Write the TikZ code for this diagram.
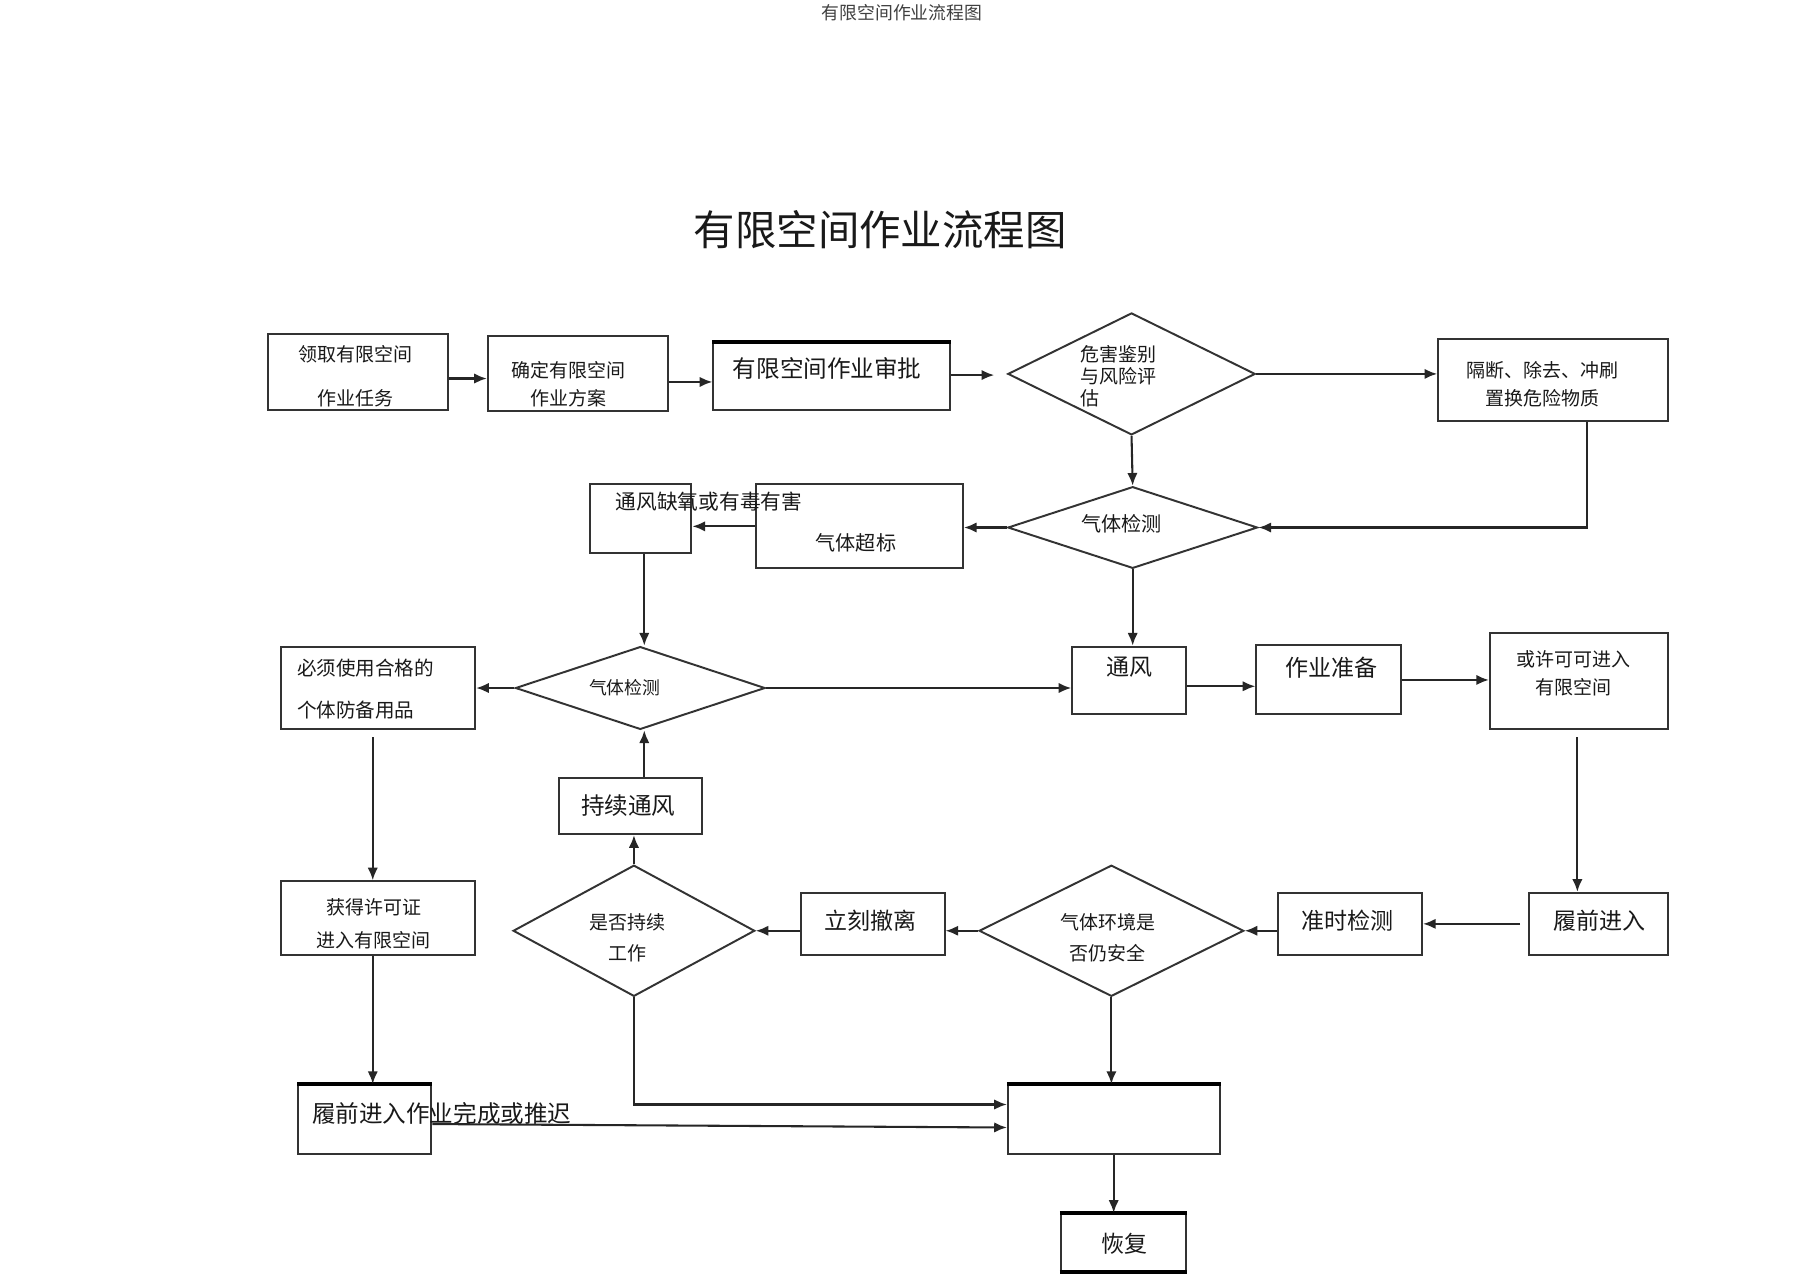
\documentclass[tikz,border=0pt]{standalone}
\usepackage{fontspec}
\setmainfont{Noto Sans CJK SC}
\usetikzlibrary{arrows.meta,shapes.geometric}
\newcommand{\myfs}[2]{\fontsize{#1}{#2}\selectfont}
\begin{document}
\begin{tikzpicture}[x=1pt,y=-1pt,
  box/.style={draw=black!80,line width=1.7pt,inner sep=0pt},
  dia/.style={diamond,draw=black!80,line width=1.7pt,inner sep=0pt},
  txt/.style={inner sep=0pt,text=black!90},
  conn/.style={draw=black!85,line width=1.8pt,-{Latex[length=11pt,width=9pt]}},
  topbar/.style={draw=black,line width=3.5pt}
]
\useasboundingbox[fill=white] (0,0) rectangle (1568,1107);

% headings
\node[txt,text=black!75,font=\myfs{15.5}{18}] (hdr) at (784,11) {有限空间作业流程图};
\node[txt,font=\myfs{36}{40}] (title) at (765,200) {有限空间作业流程图};

% boxes
\node[box,minimum width=156pt,minimum height=66pt] (A) at (311,323) {};
\node[box,minimum width=157pt,minimum height=65pt] (B) at (502.5,324.5) {};
\node[box,minimum width=206pt,minimum height=58pt] (C) at (723,327) {};
\node[box,minimum width=200pt,minimum height=71pt] (E) at (1350,330.5) {};
\node[box,minimum width=180pt,minimum height=73pt] (F) at (747,457.5) {};
\node[box,minimum width=88pt,minimum height=60pt] (G) at (557,451) {};
\node[box,minimum width=169pt,minimum height=72pt] (I) at (328.5,598) {};
\node[box,minimum width=99pt,minimum height=59pt] (H) at (981.5,591.5) {};
\node[box,minimum width=126pt,minimum height=60pt] (J) at (1155,591) {};
\node[box,minimum width=155pt,minimum height=84pt] (K) at (1372.5,592) {};
\node[box,minimum width=124pt,minimum height=49pt] (M) at (548,700.5) {};
\node[box,minimum width=125pt,minimum height=54pt] (N) at (758.5,803) {};
\node[box,minimum width=125pt,minimum height=54pt] (O) at (1173.5,803) {};
\node[box,minimum width=121pt,minimum height=54pt] (L) at (1389.5,803) {};
\node[box,minimum width=169pt,minimum height=64pt] (P) at (328.5,798) {};
\node[box,minimum width=116pt,minimum height=60pt] (Q) at (317,973) {};
\node[box,minimum width=184pt,minimum height=60pt] (R) at (968,973) {};
\node[box,minimum width=109pt,minimum height=50pt] (S) at (976.5,1080) {};

% thick top/bottom borders
\draw[topbar] (C.north west) -- (C.north east);
\draw[topbar] (Q.north west) -- (Q.north east);
\draw[topbar] (R.north west) -- (R.north east);
\draw[topbar] (S.north west) -- (S.north east);
\draw[topbar] (S.south west) -- (S.south east);

% diamonds
\node[dia,minimum width=215pt,minimum height=106pt] (D1) at (983.5,325) {};
\node[dia,minimum width=217pt,minimum height=71pt] (D2) at (984.5,458.5) {};
\node[dia,minimum width=217pt,minimum height=72pt] (D3) at (556.5,598) {};
\node[dia,minimum width=210pt,minimum height=114pt] (D4) at (551,809) {};
\node[dia,minimum width=230pt,minimum height=114pt] (D5) at (966,809) {};

% texts
\node[txt,align=center,font=\myfs{16.5}{38}] (tA) at (309,327) {领取有限空间\\作业任务};
\node[txt,align=center,font=\myfs{16.5}{24}] (tB) at (494,334) {确定有限空间\\作业方案};
\node[txt,font=\myfs{20.5}{24}] (tC) at (719,320) {有限空间作业审批};
\node[txt,align=left,anchor=west,font=\myfs{16.5}{19}] (tD1) at (939,327) {危害鉴别\\与风险评\\估};
\node[txt,align=center,font=\myfs{16.5}{24}] (tE) at (1341,334) {隔断、除去、冲刷\\置换危险物质};
\node[txt,font=\myfs{17.5}{20}] (tD2) at (975,455) {气体检测};
\node[txt,font=\myfs{17.5}{20}] (tF) at (744,472) {气体超标};
\node[txt,anchor=west,font=\myfs{18}{20}] (tG) at (535,436) {通风缺氧或有毒有害};
\node[txt,font=\myfs{15.5}{18}] (tD3) at (543,598) {气体检测};
\node[txt,align=left,anchor=west,font=\myfs{17}{36}] (tI) at (258,599) {必须使用合格的\\个体防备用品};
\node[txt,font=\myfs{20}{22}] (tH) at (982,580) {通风};
\node[txt,font=\myfs{20}{22}] (tJ) at (1157,580) {作业准备};
\node[txt,align=center,font=\myfs{16.5}{24}] (tK) at (1368,585) {或许可可进入\\有限空间};
\node[txt,font=\myfs{20.5}{22}] (tM) at (546,700) {持续通风};
\node[txt,align=center,font=\myfs{16.5}{27}] (tD4) at (545,815) {是否持续\\工作};
\node[txt,font=\myfs{20}{22}] (tN) at (757,800) {立刻撤离};
\node[txt,align=center,font=\myfs{16.5}{27}] (tD5) at (963,815) {气体环境是\\否仍安全};
\node[txt,font=\myfs{20}{22}] (tO) at (1171,800) {准时检测};
\node[txt,font=\myfs{20}{22}] (tL) at (1390,800) {履前进入};
\node[txt,align=center,font=\myfs{16.5}{28}] (tP) at (325,803) {获得许可证\\进入有限空间};
\node[txt,anchor=west,font=\myfs{20.5}{22}] (tQ) at (271,968) {履前进入作业完成或推迟};
\node[txt,font=\myfs{20}{22}] (tS) at (977,1081) {恢复};

% connectors
\draw[conn] ([yshift=-6pt]A.east) -- ([yshift=-6pt]A.east -| B.west);
\draw[conn] ([yshift=-7.5pt]B.east) -- ([yshift=-7.5pt]B.east -| C.west);
\draw[conn,shorten >=11pt] ([yshift=1pt]C.east) -- ([yshift=1pt]C.east -| D1.west);
\draw[conn] (D1.east) -- (D1.east -| E.west);
\draw[conn] ([xshift=29pt]E.south) |- (D2.east);
\draw[conn] (D1.south) -- (D2.north);
\draw[conn] (D2.west) -- (D2.west -| F.east);
\draw[conn] (F.west) -- (F.west -| G.east);
\draw[conn] ([xshift=3pt]G.south) -- ([xshift=3pt]G.south |- D3.north);
\draw[conn] (D2.south) -- (D2.south |- H.north);
\draw[conn] (D3.west) -- (D3.west -| I.east);
\draw[conn] (D3.east) -- (D3.east -| H.west);
\draw[conn] ([yshift=-5pt]H.east) -- ([yshift=-5pt]H.east -| J.west);
\draw[conn] (J.east) -- (J.east -| K.west);
\draw[conn,shorten <=6pt] ([xshift=-1.5pt]K.south) -- ([xshift=-1.5pt]K.south |- L.north);
\draw[conn,shorten <=7pt] (L.west) -- (O.east);
\draw[conn] (D5.east -| O.west) -- (D5.east);
\draw[conn] (D5.west) -- (D5.west -| N.east);
\draw[conn] (D4.east -| N.west) -- (D4.east);
\draw[conn] (D4.north) -- (D4.north |- M.south);
\draw[conn] ([xshift=3.5pt]D3.south |- M.north) -- ([xshift=3.5pt]D3.south);
\draw[conn,shorten <=6pt] ([xshift=-4.5pt]I.south) -- ([xshift=-4.5pt]P.north);
\draw[conn] ([xshift=-4.5pt]P.south) -- ([xshift=-4.5pt]P.south |- Q.north);
\draw[conn] ([yshift=-4pt]Q.east) -- ([yshift=-7pt]R.west);
\draw[conn] (D4.south) |- ([yshift=13pt]R.west);
\draw[conn] (D5.south) -- (D5.south |- R.north);
\draw[conn] (R.south) -- (R.south |- S.north);
\end{tikzpicture}
\end{document}
